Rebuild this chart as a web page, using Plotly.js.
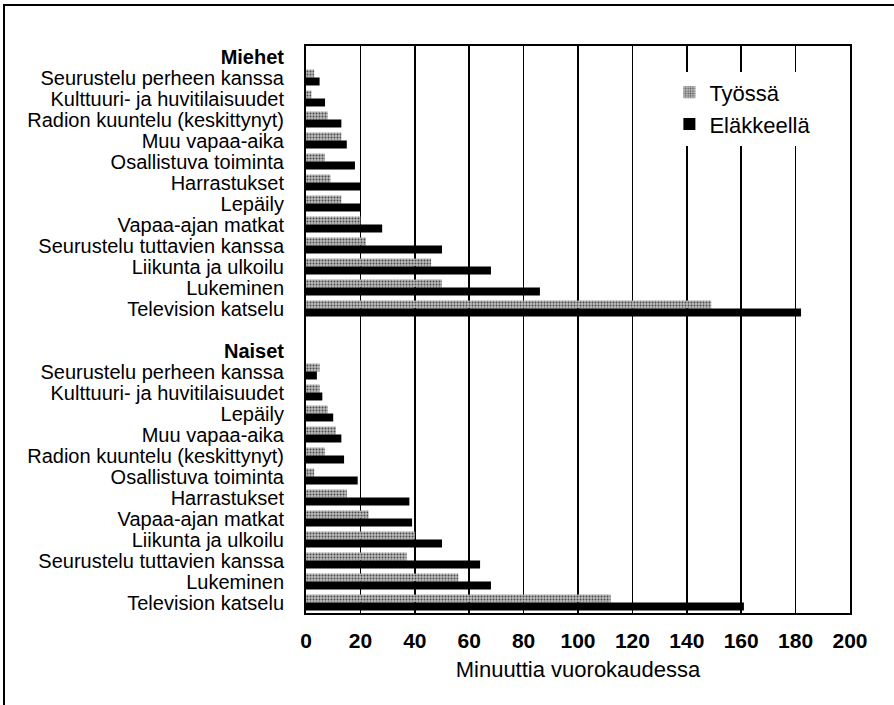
<!DOCTYPE html>
<html>
<head>
<meta charset="utf-8">
<script src="https://cdn.plot.ly/plotly-3.0.1.min.js"></script>
<style>
  html, body { margin: 0; padding: 0; background: #fff; }
  #wrap { position: relative; width: 894px; height: 705px; }
  #chart { width: 894px; height: 705px; }
  #frame { position: absolute; left: 3px; top: 4px; right: -10px; bottom: -10px;
           border-left: 2px solid #000; border-top: 2px solid #000; pointer-events: none; }
</style>
</head>
<body>
<div id="wrap"><div id="chart"></div><div id="frame"></div></div>
<script>
// ---- Data (minutes per day) ----
const groupMen = "Miehet";
const groupWomen = "Naiset";
const seriesNames = ["Työssä", "Eläkkeellä"];

const menCategories = [
  "Seurustelu perheen kanssa",
  "Kulttuuri- ja huvitilaisuudet",
  "Radion kuuntelu (keskittynyt)",
  "Muu vapaa-aika",
  "Osallistuva toiminta",
  "Harrastukset",
  "Lepäily",
  "Vapaa-ajan matkat",
  "Seurustelu tuttavien kanssa",
  "Liikunta ja ulkoilu",
  "Lukeminen",
  "Television katselu"
];
const menWorking = [3, 2, 8, 13, 7, 9, 13, 20, 22, 46, 50, 149];
const menRetired = [5, 7, 13, 15, 18, 20, 20, 28, 50, 68, 86, 182];

const womenCategories = [
  "Seurustelu perheen kanssa",
  "Kulttuuri- ja huvitilaisuudet",
  "Lepäily",
  "Muu vapaa-aika",
  "Radion kuuntelu (keskittynyt)",
  "Osallistuva toiminta",
  "Harrastukset",
  "Vapaa-ajan matkat",
  "Liikunta ja ulkoilu",
  "Seurustelu tuttavien kanssa",
  "Lukeminen",
  "Television katselu"
];
const womenWorking = [5, 5, 8, 11, 7, 3, 15, 23, 40, 37, 56, 112];
const womenRetired = [4, 6, 10, 13, 14, 19, 38, 39, 50, 64, 68, 161];

const xTicks = [0, 20, 40, 60, 80, 100, 120, 140, 160, 180, 200];
const xTitle = "Minuuttia vuorokaudessa";

// ---- Build row layout: header, 12 rows, blank, header, 12 rows ----
const rowLabels = [];
const rowIdx = [];
let r = 0;
rowLabels.push("<b>" + groupMen + "</b>"); rowIdx.push(r++);
const menRows = menCategories.map(c => { rowLabels.push(c); rowIdx.push(r); return r++; });
r++; // blank separator row
rowLabels.push("<b>" + groupWomen + "</b>"); rowIdx.push(r++);
const womenRows = womenCategories.map(c => { rowLabels.push(c); rowIdx.push(r); return r++; });
const nRows = r;

const yAll = menRows.concat(womenRows);
const workAll = menWorking.concat(womenWorking);
const retAll = menRetired.concat(womenRetired);

const FONT = "Liberation Sans, Arial, sans-serif";

const traces = [
  {
    type: "bar", orientation: "h", name: seriesNames[0],
    x: workAll, y: yAll,
    marker: {
      color: "#b4b4b4",
      pattern: { shape: ".", fgcolor: "#4a4a4a", bgcolor: "#bdbdbd", size: 3, solidity: 0.35 },
      line: { width: 0 }
    },
    hoverinfo: "x+name"
  },
  {
    type: "bar", orientation: "h", name: seriesNames[1],
    x: retAll, y: yAll,
    marker: { color: "#000000", line: { width: 0 } },
    hoverinfo: "x+name"
  }
];

const layout = {
  width: 894, height: 705,
  margin: { l: 306, r: 44, t: 46, b: 92 },
  paper_bgcolor: "#ffffff", plot_bgcolor: "#ffffff",
  barmode: "group", bargap: 0.24, bargroupgap: 0,
  font: { family: FONT, color: "#000" },
  showlegend: true,
  legend: {
    x: 0.668, y: 0.955, xanchor: "left", yanchor: "top",
    bgcolor: "#ffffff", borderwidth: 0,
    font: { family: FONT, size: 22, color: "#000" },
    traceorder: "normal", tracegroupgap: 0
  },
  xaxis: {
    range: [0, 200], tickvals: xTicks, ticktext: xTicks.map(String),
    showgrid: true, gridcolor: "#000", gridwidth: 1.6,
    zeroline: false,
    showline: true, mirror: true, linecolor: "#000", linewidth: 2,
    ticks: "", ticklabelstandoff: 8,
    tickfont: { family: FONT, size: 21, color: "#000", weight: "bold" },
    title: { text: xTitle, font: { family: FONT, size: 22, color: "#000" }, standoff: 10 },
    fixedrange: true
  },
  yaxis: {
    range: [nRows - 0.5, -0.5],
    tickmode: "array", tickvals: rowIdx, ticktext: rowLabels,
    showgrid: false, zeroline: false,
    showline: true, mirror: true, linecolor: "#000", linewidth: 2,
    ticks: "", ticklabelstandoff: 16,
    tickfont: { family: FONT, size: 20, color: "#000" },
    fixedrange: true
  }
};

Plotly.newPlot("chart", traces, layout, { displayModeBar: false, staticPlot: true });
</script>
</body>
</html>
